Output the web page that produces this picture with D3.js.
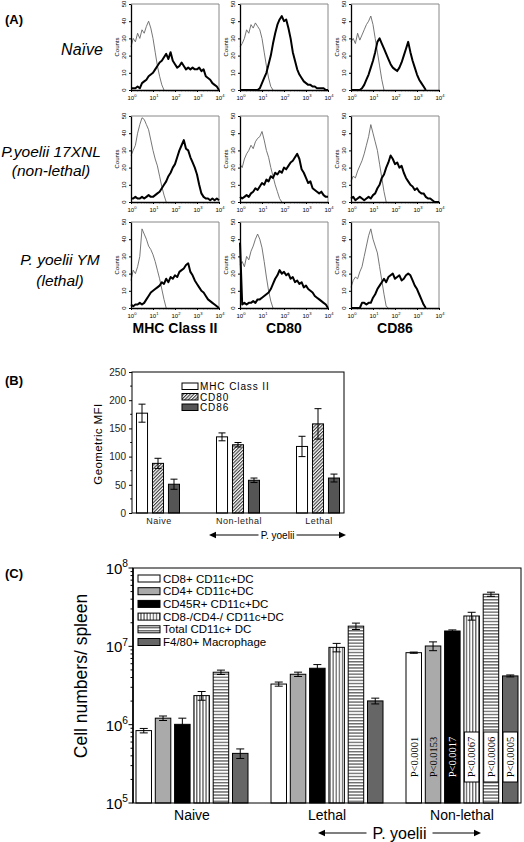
<!DOCTYPE html>
<html><head><meta charset="utf-8">
<script src="https://cdn.jsdelivr.net/npm/d3@7"></script>
<style>body{margin:0;background:#fff}svg{display:block}text{font-family:Arial,"Liberation Sans",sans-serif}</style>
</head><body><svg id="c" width="524" height="842"></svg>
<script>
// ---------- Panel A data (counts vs log10 fluorescence) ----------
const channelLog = [0,0.1,0.2,0.3,0.4,0.5,0.6,0.7,0.8,0.9,1,1.1,1.2,1.3,1.4,1.5,1.6,1.7,1.8,1.9,2,2.1,2.2,2.3,2.4,2.5,2.6,2.7,2.8,2.9,3,3.1,3.2,3.3,3.4,3.5,3.6,3.7,3.8,3.9,4];
const countTicks = [0,10,20,30,40,50];
const decadeTicks = [0,1,2,3,4];
const rowLabels = [["Naïve"],["P.yoelii 17XNL","(non-lethal)"],["P. yoelii YM","(lethal)"]];
const markerLabels = ["MHC Class II","CD80","CD86"];

const naiveMhcIso   = [25,30,28,33,30,35,33,37,40,36,30,22,14,8,3,0];
const naiveMhcStain = [1,1,1,2,1,4,5,6,8,9,10,12,14,16,17,19,21,18,22,17,15,13,14,16,14,12,13,12,13,12,12,13,11,12,8,7,6,4,3,2,0];
const naiveCd80Iso   = [25,27,30,35,33,38,36,39,37,35,30,22,14,7,2,0];
const naiveCd80Stain = [0,0,0,0,0,0,0,0,0,1,4,7,10,15,20,27,33,38,41,43,40,41,36,30,22,17,12,9,7,5,4,3,3,2,2,1,1,1,1,0,0];
const naiveCd86Iso   = [28,30,27,33,29,32,35,38,40,43,38,30,22,14,6,0];
const naiveCd86Stain = [0,0,0,0,0,1,3,6,9,13,17,22,28,30,27,24,21,18,15,13,12,11,13,16,20,24,28,22,17,13,9,6,4,2,0];

const nlMhcIso   = [27,30,33,40,45,49,48,45,42,36,30,25,21,15,9,4,0];
const nlMhcStain = [2,2,3,2,2,3,2,3,4,3,3,4,5,6,8,10,12,15,17,20,22,26,30,33,36,31,30,26,23,20,16,10,5,3,2,2,1,2,1,2,1];
const nlCd80Iso   = [22,20,25,28,30,33,31,35,37,38,41,36,30,26,20,15,10,6,2,0];
const nlCd80Stain = [3,2,3,4,3,5,6,8,7,9,11,10,13,12,15,14,17,16,18,17,20,19,21,23,24,26,28,25,19,17,14,11,12,8,7,6,5,6,4,3,3];
const nlCd86Iso   = [12,15,14,18,21,24,28,33,38,45,40,35,30,22,14,6,0];
const nlCd86Stain = [2,3,1,2,3,2,1,2,3,2,4,5,8,10,14,16,20,23,27,25,22,23,20,21,17,14,12,10,9,7,8,6,5,5,3,2,2,1,0,0,0];

const ymMhcIso   = [16,22,20,24,30,46,43,40,36,34,31,27,22,17,11,5,0];
const ymMhcStain = [2,1,2,2,3,2,3,5,7,9,10,11,12,13,15,14,17,15,18,17,19,18,21,22,23,25,26,21,19,16,14,12,10,9,7,5,4,3,2,1,0];
const ymCd80Iso   = [25,27,24,30,28,33,36,40,43,40,35,27,18,10,4,0];
const ymCd80Stain = [38,2,3,2,3,3,4,3,5,5,6,7,8,9,11,14,17,19,22,20,21,19,20,17,18,15,16,14,15,12,13,11,10,9,7,6,5,4,3,2,0];
const ymCd86Iso   = [12,16,18,17,21,24,30,36,42,46,40,36,32,24,16,8,1,0];
const ymCd86Stain = [0,0,0,0,0,3,3,2,3,3,6,8,11,13,15,17,15,18,19,20,17,18,19,16,17,19,20,19,16,13,11,8,5,2,0];

// ---------- Panel B data ----------
const bGroups = ["Naive","Non-lethal","Lethal"];
const bSeries = ["MHC Class II","CD80","CD86"];
const mhcMFI = [177,135,118], mhcErr = [16,7,18];
const cd80MFI = [88,121,158], cd80Err = [9,4,27];
const cd86MFI = [51,58,62],   cd86Err = [9,4,7];
const bTicks = [0,50,100,150,200,250];

// ---------- Panel C data ----------
const cGroups = ["Naive","Lethal","Non-lethal"];
const cSeries = ["CD8+ CD11c+DC","CD4+ CD11c+DC","CD45R+ CD11c+DC","CD8-/CD4-/ CD11c+DC","Total CD11c+ DC","F4/80+ Macrophage"];
const cd8Vals = [8.4e5,3.3e6,8.3e6],   cd8Err = [0.55e5,0.2e6,0.15e6];
const cd4Vals = [1.21e6,4.4e6,1.01e7], cd4Err = [0.08e6,0.28e6,1.3e6];
const cd45Vals = [1.01e6,5.25e6,1.57e7], cd45Err = [0.2e6,0.6e6,0.5e6];
const dnVals = [2.35e6,9.7e6,2.44e7],  dnErr = [0.3e6,1.2e6,2.8e6];
const totalVals = [4.67e6,1.81e7,4.63e7], totalErr = [0.3e6,1.7e6,2.8e6];
const macVals = [4.3e5,2.01e6,4.19e6], macErr = [0.6e5,0.17e6,0.12e6];
const pValues = ["P<0.0001","P<0.0153","P<0.0017","P<0.0067","P<0.0006","P<0.0005"];
const cDecades = [5,6,7,8];

// ================= drawing =================
const svg = d3.select('#c');
const defs = svg.append('defs');
function pat(id,w,h,transform,draw){
  const p = defs.append('pattern').attr('id',id).attr('width',w).attr('height',h).attr('patternUnits','userSpaceOnUse');
  if (transform) p.attr('patternTransform',transform);
  p.append('rect').attr('width',w).attr('height',h).attr('fill','#fff');
  draw(p);
}
pat('diag',2.4,2.4,'rotate(45)',p=>p.append('line').attr('x1',0.6).attr('y1',0).attr('x2',0.6).attr('y2',2.4).attr('stroke','#222').attr('stroke-width',1));
pat('vl',3.1,10,null,p=>p.append('line').attr('x1',1.5).attr('y1',0).attr('x2',1.5).attr('y2',10).attr('stroke','#000').attr('stroke-width',0.8));
pat('hl',10,3.1,null,p=>p.append('line').attr('x1',0).attr('y1',1.5).attr('x2',10).attr('y2',1.5).attr('stroke','#000').attr('stroke-width',0.8));

function supText(sel, base, sup, x, y, fs, anchor){
  const t = sel.append('text').attr('x',x).attr('y',y).attr('font-size',fs).attr('text-anchor',anchor||'middle');
  t.append('tspan').text(base);
  t.append('tspan').attr('dy',-fs*0.45).attr('font-size',fs*0.68).text(sup);
  return t;
}

// ---------- Panel A ----------
svg.append('text').attr('x',5).attr('y',24).attr('font-size',13).attr('font-weight','bold').text('(A)');
const colX = [131,240,351], rowY = [4,116,222], fw = 88, fh = 86;
const histIso = [[naiveMhcIso,naiveCd80Iso,naiveCd86Iso],[nlMhcIso,nlCd80Iso,nlCd86Iso],[ymMhcIso,ymCd80Iso,ymCd86Iso]];
const histStain = [[naiveMhcStain,naiveCd80Stain,naiveCd86Stain],[nlMhcStain,nlCd80Stain,nlCd86Stain],[ymMhcStain,ymCd80Stain,ymCd86Stain]];

function drawHist(x0,y0,iso,stain){
  const g = svg.append('g');
  const x = d3.scaleLinear().domain([0,4]).range([x0,x0+fw]);
  const y = d3.scaleLinear().domain([0,50]).range([y0+fh,y0]);
  g.append('path').attr('d',`M${x0},${y0}H${x0+fw}V${y0+fh}`).attr('fill','none').attr('stroke','#888').attr('stroke-width',1);
  const line = d3.line().x((d,i)=>x(channelLog[i])).y(d=>y(d));
  g.append('path').datum(iso).attr('d',line).attr('fill','none').attr('stroke','#666').attr('stroke-width',0.9);
  g.append('path').datum(stain).attr('d',line).attr('fill','none').attr('stroke','#000').attr('stroke-width',2).attr('stroke-linejoin','round');
  const ya = g.append('g').attr('transform',`translate(${x0},0)`).call(d3.axisLeft(y).tickValues(countTicks).tickSize(2).tickSizeOuter(0).tickFormat(''));
  ya.select('.domain').attr('stroke-width',1.3);
  countTicks.forEach(v=>{
    g.append('text').attr('transform',`translate(${x0-5},${y(v)}) rotate(-90)`).attr('text-anchor','middle').attr('font-size',6).text(v);
  });
  g.append('text').attr('transform',`translate(${x0-12},${y0+fh/2}) rotate(-90)`).attr('text-anchor','middle').attr('font-size',6).text('Counts');
  const xa = g.append('g').attr('transform',`translate(0,${y0+fh})`).call(d3.axisBottom(x).tickValues(decadeTicks).tickSize(2).tickSizeOuter(0).tickFormat(''));
  xa.select('.domain').attr('stroke-width',1.3);
  const minors = [];
  decadeTicks.slice(0,4).forEach(d=>{for(let k=2;k<=9;k++) minors.push(d+Math.log10(k));});
  g.append('g').selectAll('line').data(minors).join('line')
    .attr('x1',d=>x(d)).attr('x2',d=>x(d)).attr('y1',y0+fh).attr('y2',y0+fh+1.3).attr('stroke','#000').attr('stroke-width',0.6);
  decadeTicks.forEach(d=>supText(g,'10',String(d),x(d)+1,y0+fh+10,6));
}
for (let r=0;r<3;r++) for (let c=0;c<3;c++) drawHist(colX[c],rowY[r],histIso[r][c],histStain[r][c]);

const rowLabelX = [82,51,60], rowLabelY = [[55],[157,176],[265,286]];
rowLabels.forEach((lines,r)=>lines.forEach((s,i)=>{
  svg.append('text').attr('x',rowLabelX[r]).attr('y',rowLabelY[r][i]).attr('text-anchor','middle')
    .attr('font-size',r===0?16:15.5).attr('font-style','italic').text(s);
}));
markerLabels.forEach((s,c)=>{
  svg.append('text').attr('x',colX[c]+fw/2).attr('y',333).attr('text-anchor','middle').attr('font-size',14).attr('font-weight','bold').text(s);
});

// ---------- Panel B ----------
svg.append('text').attr('x',5).attr('y',385).attr('font-size',13).attr('font-weight','bold').text('(B)');
const bL=132,bR=344,bT=372,bB=513;
const bx = d3.scalePoint().domain(bGroups).range([bL,bR]).padding(0.325);
const bIn = d3.scaleBand().domain(bSeries).range([-21.5,21.5]).paddingInner(0.31);
const by = d3.scaleLinear().domain([0,250]).range([bB,bT]);
const bFill = ['#fff','url(#diag)','#555'];
const bVals = [mhcMFI,cd80MFI,cd86MFI], bErrs = [mhcErr,cd80Err,cd86Err];
const gb = svg.append('g');
bSeries.forEach((s,si)=>{
  bGroups.forEach((g,gi)=>{
    const xx = bx(g)+bIn(s), w = bIn.bandwidth(), v = bVals[si][gi], e = bErrs[si][gi];
    gb.append('rect').attr('x',xx).attr('y',by(v)).attr('width',w).attr('height',by(0)-by(v)).attr('fill',bFill[si]).attr('stroke','#000').attr('stroke-width',1);
    const cx = xx+w/2;
    gb.append('path').attr('d',`M${cx},${by(v+e)}V${by(v-e)}M${cx-3.5},${by(v+e)}H${cx+3.5}M${cx-3.5},${by(v-e)}H${cx+3.5}`).attr('stroke','#000').attr('stroke-width',1).attr('fill','none');
  });
});
gb.append('rect').attr('x',bL).attr('y',bT).attr('width',bR-bL).attr('height',bB-bT).attr('fill','none').attr('stroke','#000').attr('stroke-width',1);
const bya = gb.append('g').attr('transform',`translate(${bL},0)`).call(d3.axisLeft(by).tickValues(bTicks).tickSize(3).tickSizeOuter(0).tickPadding(3));
bya.selectAll('text').attr('font-size',10).attr('fill','#222').style('font-family','Arial');
bya.select('.domain').remove();
gb.append('g').selectAll('line').data([25,75,125,175,225]).join('line').attr('x1',bL-1.8).attr('x2',bL).attr('y1',d=>by(d)).attr('y2',d=>by(d)).attr('stroke','#000');
gb.append('text').attr('transform',`translate(102,444) rotate(-90)`).attr('text-anchor','middle').attr('font-size',11.5).attr('letter-spacing',0.4).text('Geometric  MFI');
bGroups.forEach(g=>gb.append('text').attr('x',bx(g)+1).attr('y',524).attr('text-anchor','middle').attr('font-size',9).attr('letter-spacing',0.5).attr('fill','#222').text(g));
// legend B
bSeries.forEach((s,i)=>{
  const ly = 383 + i*10.5;
  gb.append('rect').attr('x',182).attr('y',ly).attr('width',16).attr('height',6.5).attr('fill',bFill[i]).attr('stroke','#000').attr('stroke-width',1);
  gb.append('text').attr('x',200).attr('y',ly+7).attr('font-size',10).attr('letter-spacing',0.9).text(s);
});
// arrow B
function arrow(g,x1,x2,y,label,fs,gap){
  const mid=(x1+x2)/2;
  g.append('text').attr('x',mid).attr('y',y+fs*0.36).attr('text-anchor','middle').attr('font-size',fs).text(label);
  g.append('line').attr('x1',x1+5).attr('x2',mid-gap).attr('y1',y).attr('y2',y).attr('stroke','#000').attr('stroke-width',1.2);
  g.append('line').attr('x1',mid+gap).attr('x2',x2-5).attr('y1',y).attr('y2',y).attr('stroke','#000').attr('stroke-width',1.2);
  g.append('path').attr('d',`M${x1},${y}l7,-3.2v6.4z`).attr('fill','#000');
  g.append('path').attr('d',`M${x2},${y}l-7,-3.2v6.4z`).attr('fill','#000');
}
arrow(gb,209,346,535,'P. yoelii',10,19);

// ---------- Panel C ----------
svg.append('text').attr('x',5).attr('y',578).attr('font-size',13).attr('font-weight','bold').text('(C)');
const cL=133,cR=521,cT=568,cB=803;
const cx = d3.scalePoint().domain(cGroups).range([cL,cR]).padding(0.437);
const cIn = d3.scaleBand().domain(cSeries).range([-56,56]).paddingInner(0.197);
const cy = d3.scaleLog().domain([1e5,1e8]).range([cB,cT]);
const cFill = ['#fff','#aaa','#000','url(#vl)','url(#hl)','#666'];
const cVals = [cd8Vals,cd4Vals,cd45Vals,dnVals,totalVals,macVals];
const cErrs = [cd8Err,cd4Err,cd45Err,dnErr,totalErr,macErr];
const gc = svg.append('g');
cSeries.forEach((s,si)=>{
  cGroups.forEach((g,gi)=>{
    const xx = cx(g)+cIn(s), w = cIn.bandwidth(), v = cVals[si][gi], e = cErrs[si][gi];
    gc.append('rect').attr('x',xx).attr('y',cy(v)).attr('width',w).attr('height',cB-cy(v)).attr('fill',cFill[si]).attr('stroke','#000').attr('stroke-width',1);
    const mx = xx+w/2;
    gc.append('path').attr('d',`M${mx},${cy(v+e)}V${cy(v-e)}M${mx-4},${cy(v+e)}H${mx+4}M${mx-4},${cy(v-e)}H${mx+4}`).attr('stroke','#000').attr('stroke-width',1).attr('fill','none');
  });
});
// p-values in the non-lethal group
cSeries.forEach((s,si)=>{
  const xx = cx('Non-lethal')+cIn(s), w = cIn.bandwidth(), mx = xx+w/2, my = 757;
  if (si>=3) gc.append('rect').attr('x',xx+0.5).attr('y',my-25).attr('width',w-1).attr('height',50).attr('fill','#fff').attr('stroke','#000').attr('stroke-width',1);
  gc.append('text').attr('transform',`translate(${mx+3.8},${my}) rotate(-90)`).attr('text-anchor','middle')
    .attr('font-size',10.5).style('font-family','"Liberation Serif","Times New Roman",serif').attr('fill',si===2?'#fff':'#000').text(pValues[si]);
});
gc.append('rect').attr('x',cL).attr('y',cT).attr('width',cR-cL).attr('height',cB-cT).attr('fill','none').attr('stroke','#000').attr('stroke-width',1);
gc.append('line').attr('x1',cL).attr('x2',cL).attr('y1',cT).attr('y2',cB).attr('stroke','#000').attr('stroke-width',1.6);
const cMinor = [];
cDecades.slice(0,3).forEach(d=>{for(let k=2;k<=9;k++) cMinor.push(k*Math.pow(10,d));});
gc.append('g').selectAll('line').data(cMinor).join('line').attr('x1',cL-2.5).attr('x2',cL).attr('y1',d=>cy(d)).attr('y2',d=>cy(d)).attr('stroke','#000');
cDecades.forEach(d=>{
  gc.append('line').attr('x1',cL-4.5).attr('x2',cL).attr('y1',cy(Math.pow(10,d))).attr('y2',cy(Math.pow(10,d))).attr('stroke','#000');
  supText(gc,'10',String(d),128,cy(Math.pow(10,d))+6,15,'end');
});
gc.append('text').attr('transform',`translate(87,676) rotate(-90)`).attr('text-anchor','middle').attr('font-size',17.5).text('Cell numbers/ spleen');
cGroups.forEach(g=>gc.append('text').attr('x',cx(g)).attr('y',820).attr('text-anchor','middle').attr('font-size',14).text(g));
cSeries.forEach((s,i)=>{
  const ly = 575 + i*12.7;
  gc.append('rect').attr('x',138).attr('y',ly).attr('width',22).attr('height',7).attr('fill',cFill[i]).attr('stroke','#000').attr('stroke-width',1);
  gc.append('text').attr('x',163).attr('y',ly+7.5).attr('font-size',11.5).text(s);
});
arrow(gc,318,481,833,'P. yoelii',16,33);
</script></body></html>
